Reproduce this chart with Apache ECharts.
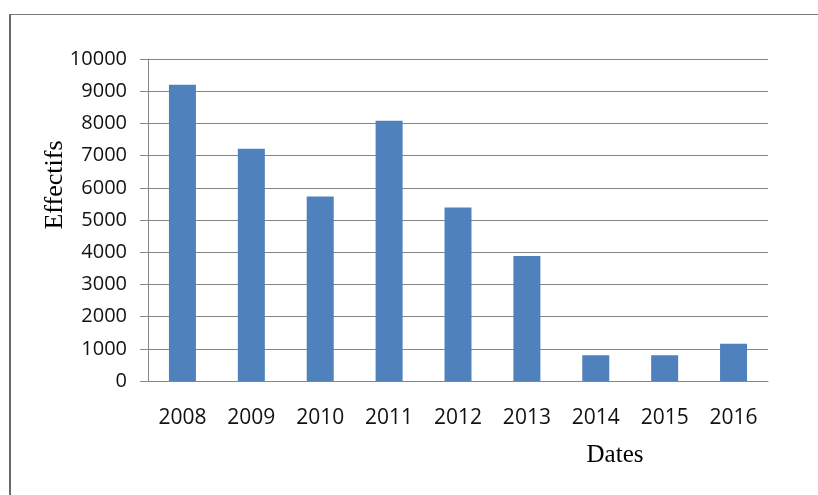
<!DOCTYPE html>
<html>
<head>
<meta charset="utf-8">
<script src="https://cdn.jsdelivr.net/npm/echarts@6/dist/echarts.min.js"></script>
<style>
html,body{margin:0;padding:0;background:#fff;}
#chart{width:818px;height:495px;}
</style>
</head>
<body>
<div id="chart"></div>
<script>
const categories = ['2008','2009','2010','2011','2012','2013','2014','2015','2016'];
const effectifs = [9200, 7210, 5730, 8080, 5390, 3880, 800, 800, 1160];
const yTitle = 'Effectifs';
const xTitle = 'Dates';

const chart = echarts.init(document.getElementById('chart'), null, {renderer:'canvas'});
chart.setOption({
  animation: false,
  backgroundColor: '#fff',
  grid: {left: 148, right: 50, top: 59, bottom: 114, containLabel: false},
  xAxis: {
    type: 'category',
    data: categories,
    axisLine: {show: true, lineStyle: {color: '#868686', width: 1}},
    axisTick: {show: false},
    axisLabel: {margin: 27, fontSize: 21, color: '#111', fontFamily: 'Open Sans'}
  },
  yAxis: {
    type: 'value',
    min: 0, max: 10000, interval: 1000,
    axisLine: {show: true, lineStyle: {color: '#868686', width: 1}},
    axisTick: {show: true, length: 8, lineStyle: {color: '#868686'}},
    splitLine: {show: true, lineStyle: {color: '#868686', width: 1}},
    axisLabel: {margin: 21, fontSize: 20, color: '#111', fontFamily: 'Open Sans',
      formatter: function (v) { return String(v); }}
  },
  series: [{
    type: 'bar',
    data: effectifs,
    barWidth: 27,
    itemStyle: {color: '#4F81BD'}
  }],
  graphic: [
    {type: 'line', shape: {x1: 10, y1: 14.5, x2: 818, y2: 14.5}, style: {stroke: '#7a7a7a', lineWidth: 1}},
    {type: 'line', shape: {x1: 10, y1: 14, x2: 10, y2: 495}, style: {stroke: '#6a6a6a', lineWidth: 2}},
    {type: 'text', x: 55, y: 185, rotation: Math.PI/2,
     style: {text: yTitle, font: '26px "Liberation Serif"', fill: '#000', align: 'center', verticalAlign: 'middle'}},
    {type: 'text', x: 615, y: 455,
     style: {text: xTitle, font: '25px "Liberation Serif"', fill: '#000', align: 'center', verticalAlign: 'middle'}}
  ]
});
</script>
</body>
</html>
